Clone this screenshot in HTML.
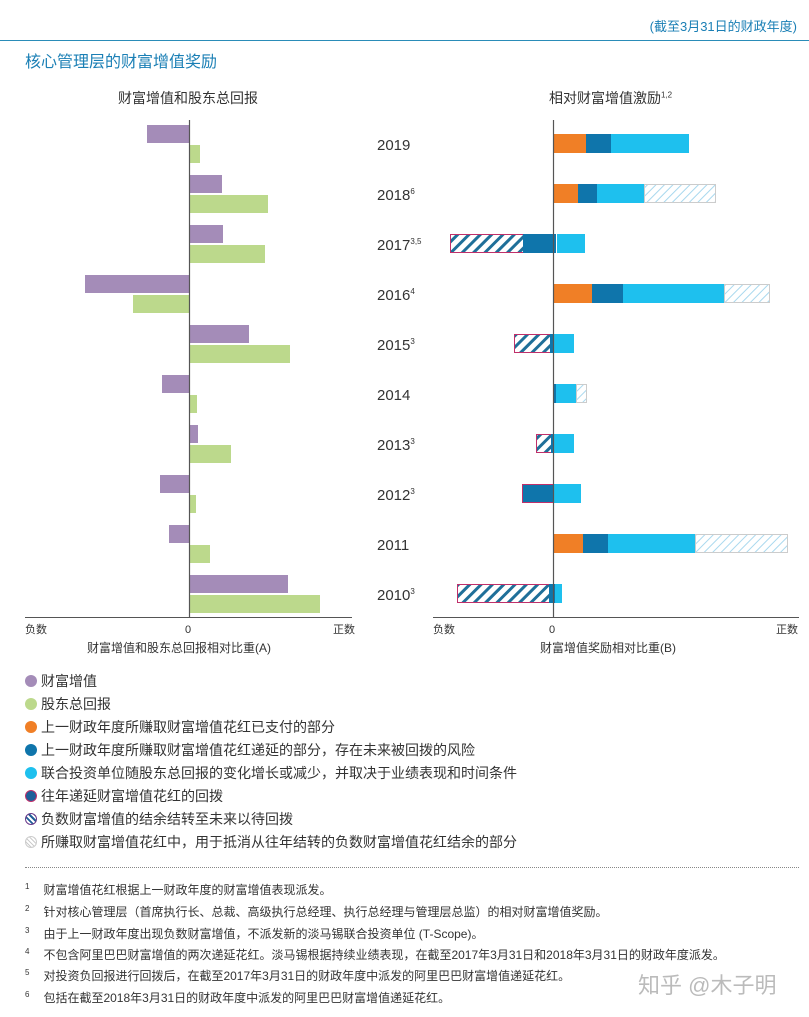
<!DOCTYPE html><html><head><meta charset="utf-8"><style>
body{margin:0;width:809px;height:1017px;background:#fff;font-family:"Liberation Sans","Noto Sans CJK SC",sans-serif;color:#333;position:relative;overflow:hidden}
.t{position:absolute;white-space:nowrap}
.b{position:absolute}
.lg{position:absolute;left:25px;font-size:14px;color:#333}
.lg i{display:inline-block;width:12px;height:12px;border-radius:50%;margin-right:4px;vertical-align:-1px}
.fn{position:absolute;left:25px;font-size:12px;color:#333}
.fn sup{font-size:8px;margin-right:14px}
</style></head><body>
<div class="t" style="right:12px;top:16px;font-size:13px;color:#1a7fb5">(截至3月31日的财政年度)</div>
<div class="b" style="left:0;top:40px;width:809px;height:1px;background:#2a8cb8"></div>
<div class="t" style="left:25px;top:48px;font-size:16px;color:#1a7fb5">核心管理层的财富增值奖励</div>
<div class="t" style="left:118px;top:88px;font-size:14px">财富增值和股东总回报</div>
<div class="t" style="left:549px;top:88px;font-size:14px">相对财富增值激励<sup style="font-size:8px">1,2</sup></div>
<svg class="b" style="left:0;top:0" width="809" height="680">
<defs>
<pattern id="h" width="8" height="8" patternUnits="userSpaceOnUse" patternTransform="rotate(45)"><rect width="8" height="8" fill="#fff"/><rect width="3" height="8" fill="#1f6f99"/></pattern>
<pattern id="l" width="6" height="6" patternUnits="userSpaceOnUse" patternTransform="rotate(45)"><rect width="6" height="6" fill="#fff"/><rect width="1" height="6" fill="#a8d8ee"/></pattern>
</defs>
<g fill="#a48cb8">
<rect x="147" y="125" width="42" height="18"/><rect x="189" y="175" width="33" height="18"/><rect x="189" y="225" width="34" height="18"/><rect x="85" y="275" width="104" height="18"/><rect x="189" y="325" width="60" height="18"/><rect x="162" y="375" width="27" height="18"/><rect x="189" y="425" width="9" height="18"/><rect x="160" y="475" width="29" height="18"/><rect x="169" y="525" width="20" height="18"/><rect x="189" y="575" width="99" height="18"/>
</g>
<g fill="#bcd98c">
<rect x="189" y="145" width="11" height="18"/><rect x="189" y="195" width="79" height="18"/><rect x="189" y="245" width="76" height="18"/><rect x="133" y="295" width="56" height="18"/><rect x="189" y="345" width="101" height="18"/><rect x="189" y="395" width="8" height="18"/><rect x="189" y="445" width="42" height="18"/><rect x="189" y="495" width="7" height="18"/><rect x="189" y="545" width="21" height="18"/><rect x="189" y="595" width="131" height="18"/>
</g>
<line x1="189.5" y1="120" x2="189.5" y2="618" stroke="#555" stroke-width="1.2"/>
<line x1="25" y1="617.5" x2="352" y2="617.5" stroke="#555"/>
<g>
<rect x="553" y="134" width="33" height="19" fill="#f07f26"/><rect x="586" y="134" width="25" height="19" fill="#0f75ab"/><rect x="611" y="134" width="78" height="19" fill="#1ec0ee"/>
<rect x="553" y="184" width="25" height="19" fill="#f07f26"/><rect x="578" y="184" width="19" height="19" fill="#0f75ab"/><rect x="597" y="184" width="47" height="19" fill="#1ec0ee"/><rect x="644.5" y="184.5" width="71" height="18" fill="url(#l)" stroke="#ccc"/>
<rect x="450.5" y="234.5" width="73" height="18" fill="url(#h)" stroke="#c0306a"/><rect x="523" y="234" width="33" height="19" fill="#0f75ab"/><rect x="557" y="234" width="28" height="19" fill="#1ec0ee"/>
<rect x="553" y="284" width="39" height="19" fill="#f07f26"/><rect x="592" y="284" width="31" height="19" fill="#0f75ab"/><rect x="623" y="284" width="101" height="19" fill="#1ec0ee"/><rect x="724.5" y="284.5" width="45" height="18" fill="url(#l)" stroke="#ccc"/>
<rect x="514.5" y="334.5" width="36" height="18" fill="url(#h)" stroke="#c0306a"/><rect x="550" y="334" width="3" height="19" fill="#0f75ab"/><rect x="553" y="334" width="21" height="19" fill="#1ec0ee"/>
<rect x="553" y="384" width="3" height="19" fill="#0f75ab"/><rect x="556" y="384" width="20" height="19" fill="#1ec0ee"/><rect x="576.5" y="384.5" width="10" height="18" fill="url(#l)" stroke="#ccc"/>
<rect x="536.5" y="434.5" width="15" height="18" fill="url(#h)" stroke="#c0306a"/><rect x="551" y="434" width="2" height="19" fill="#0f75ab"/><rect x="553" y="434" width="21" height="19" fill="#1ec0ee"/>
<rect x="522.5" y="484.5" width="31" height="18" fill="#0f75ab" stroke="#c0306a"/><rect x="553" y="484" width="28" height="19" fill="#1ec0ee"/>
<rect x="553" y="534" width="30" height="19" fill="#f07f26"/><rect x="583" y="534" width="25" height="19" fill="#0f75ab"/><rect x="608" y="534" width="87" height="19" fill="#1ec0ee"/><rect x="695.5" y="534.5" width="92" height="18" fill="url(#l)" stroke="#ccc"/>
<rect x="457.5" y="584.5" width="92" height="18" fill="url(#h)" stroke="#c0306a"/><rect x="549" y="584" width="6" height="19" fill="#0f75ab"/><rect x="555" y="584" width="7" height="19" fill="#1ec0ee"/>
</g>
<line x1="553.5" y1="120" x2="553.5" y2="618" stroke="#555" stroke-width="1.2"/>
<line x1="433" y1="617.5" x2="799" y2="617.5" stroke="#555"/>
<g font-size="15" fill="#333" font-family="Liberation Sans,Noto Sans CJK SC,sans-serif">
<text x="377" y="150">2019</text><text x="377" y="200">2018<tspan font-size="8" dy="-6">6</tspan></text><text x="377" y="250">2017<tspan font-size="8" dy="-6">3,5</tspan></text><text x="377" y="300">2016<tspan font-size="8" dy="-6">4</tspan></text><text x="377" y="350">2015<tspan font-size="8" dy="-6">3</tspan></text><text x="377" y="400">2014</text><text x="377" y="450">2013<tspan font-size="8" dy="-6">3</tspan></text><text x="377" y="500">2012<tspan font-size="8" dy="-6">3</tspan></text><text x="377" y="550">2011</text><text x="377" y="600">2010<tspan font-size="8" dy="-6">3</tspan></text>
</g>
<g font-size="11" fill="#333" font-family="Liberation Sans,Noto Sans CJK SC,sans-serif">
<text x="25" y="633">负数</text><text x="185" y="633">0</text><text x="333" y="633">正数</text>
<text x="433" y="633">负数</text><text x="549" y="633">0</text><text x="776" y="633">正数</text>
</g>
<g font-size="12" fill="#333" font-family="Liberation Sans,Noto Sans CJK SC,sans-serif">
<text x="87" y="652">财富增值和股东总回报相对比重(A)</text><text x="540" y="652">财富增值奖励相对比重(B)</text>
</g>
</svg>
<div class="lg" style="top:671px"><i style="background:#a48cb8"></i>财富增值</div>
<div class="lg" style="top:694px"><i style="background:#bcd98c"></i>股东总回报</div>
<div class="lg" style="top:717px"><i style="background:#f07f26"></i>上一财政年度所赚取财富增值花红已支付的部分</div>
<div class="lg" style="top:740px"><i style="background:#0f75ab"></i>上一财政年度所赚取财富增值花红递延的部分，存在未来被回拨的风险</div>
<div class="lg" style="top:763px"><i style="background:#1ec0ee"></i>联合投资单位随股东总回报的变化增长或减少，并取决于业绩表现和时间条件</div>
<div class="lg" style="top:786px"><i style="background:#1f5f99;border:1px solid #c0306a;width:10px;height:10px"></i>往年递延财富增值花红的回拨</div>
<div class="lg" style="top:809px"><i style="background:repeating-linear-gradient(45deg,#1f5f99 0 2px,#fff 2px 4px);border:1px solid #6a3a8a;width:10px;height:10px"></i>负数财富增值的结余结转至未来以待回拨</div>
<div class="lg" style="top:832px"><i style="background:repeating-linear-gradient(45deg,#ccc 0 1px,#fff 1px 3px);border:1px solid #ccc;width:10px;height:10px"></i>所赚取财富增值花红中，用于抵消从往年结转的负数财富增值花红结余的部分</div>
<div class="b" style="left:25px;top:867px;width:774px;border-top:1px dotted #888"></div>
<div class="fn" style="top:881px"><sup>1</sup>财富增值花红根据上一财政年度的财富增值表现派发。</div>
<div class="fn" style="top:903px"><sup>2</sup>针对核心管理层（首席执行长、总裁、高级执行总经理、执行总经理与管理层总监）的相对财富增值奖励。</div>
<div class="fn" style="top:925px"><sup>3</sup>由于上一财政年度出现负数财富增值，不派发新的淡马锡联合投资单位 (T-Scope)。</div>
<div class="fn" style="top:946px"><sup>4</sup>不包含阿里巴巴财富增值的两次递延花红。淡马锡根据持续业绩表现，在截至2017年3月31日和2018年3月31日的财政年度派发。</div>
<div class="fn" style="top:967px"><sup>5</sup>对投资负回报进行回拨后，在截至2017年3月31日的财政年度中派发的阿里巴巴财富增值递延花红。</div>
<div class="fn" style="top:989px"><sup>6</sup>包括在截至2018年3月31日的财政年度中派发的阿里巴巴财富增值递延花红。</div>
<div class="t" style="left:638px;top:968px;font-size:22px;color:#bbb">知乎 @木子明</div>
</body></html>
